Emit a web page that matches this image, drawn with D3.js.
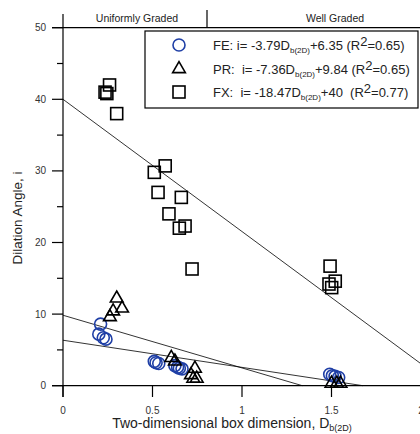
<!DOCTYPE html>
<html><head><meta charset="utf-8">
<script src="https://cdn.jsdelivr.net/npm/d3@7"></script>
<style>body{margin:0;background:#fff}svg{display:block;font-family:"Liberation Sans",Arial,sans-serif}text{white-space:pre}</style>
</head><body><svg id="c" width="420" height="434"></svg>
<script>
// ---- data ----
const feData = [[0.21,8.6],[0.20,7.2],[0.225,6.7],[0.24,6.5],[0.51,3.4],[0.52,3.2],[0.535,3.1],[0.625,2.8],[0.64,2.6],[0.65,2.45],[0.665,2.35],[1.49,1.6],[1.505,1.4],[1.52,1.3],[1.54,1.15]];
const prData = [[0.30,12.2],[0.28,10.4],[0.33,10.8],[0.262,9.6],[0.605,3.9],[0.625,3.4],[0.737,2.4],[0.715,1.5],[0.728,1.0],[0.747,1.0],[1.50,0.3],[1.53,0.3],[1.55,0.3]];
const fxData = [[0.26,42.0],[0.235,41.0],[0.245,40.8],[0.30,38.0],[0.571,30.7],[0.51,29.8],[0.531,27.0],[0.661,26.3],[0.592,24.0],[0.65,22.0],[0.682,22.3],[0.721,16.3],[1.492,16.7],[1.521,14.6],[1.486,14.2],[1.501,13.7]];
const fits = [{name:"FE", slope:-3.79, icpt:6.35, r2:"0.65"},{name:"PR", slope:-7.36, icpt:9.84, r2:"0.65"},{name:"FX", slope:-18.47, icpt:40, r2:"0.77"}];
const yTicks = [0,10,20,30,40,50];
const yMinor = [5,15,25,35,45];
const xTicks = [0,0.5,1,1.5,2];
const xTickLabels = ["0","0.5","1","1.5","2"];
const headers = ["Uniformly Graded", "Well Graded"];

const svg = d3.select("#c");
const x = d3.scaleLinear().domain([0,2]).range([63,421]);
const y = d3.scaleLinear().domain([0,50]).range([385.7,27.7]);
const blue = "#1f3fa6";

// axes lines
svg.append("line").attr("x1",63).attr("x2",63).attr("y1",14).attr("y2",397).attr("stroke","#000").attr("stroke-width",1.2);
svg.append("line").attr("x1",52).attr("x2",420).attr("y1",y(0)).attr("y2",y(0)).attr("stroke","#000").attr("stroke-width",1.2);
svg.append("line").attr("x1",52).attr("x2",420).attr("y1",y(50)).attr("y2",y(50)).attr("stroke","#000").attr("stroke-width",1.2);
// header divider
svg.append("line").attr("x1",207).attr("x2",207).attr("y1",10).attr("y2",y(50)).attr("stroke","#000").attr("stroke-width",1.2);
svg.append("text").attr("x",137).attr("y",22).attr("text-anchor","middle").attr("font-size",10.5).attr("fill","#222").text(headers[0]);
svg.append("text").attr("x",335).attr("y",22).attr("text-anchor","middle").attr("font-size",10.5).attr("fill","#222").text(headers[1]);

// y ticks
yTicks.forEach(t=>{
  svg.append("line").attr("x1",52).attr("x2",63).attr("y1",y(t)).attr("y2",y(t)).attr("stroke","#000").attr("stroke-width",1.2);
  svg.append("text").attr("x",46).attr("y",y(t)+3.5).attr("text-anchor","end").attr("font-size",10).attr("fill","#333").text(t);
});
yMinor.forEach(t=>{
  svg.append("line").attr("x1",57).attr("x2",63).attr("y1",y(t)).attr("y2",y(t)).attr("stroke","#000").attr("stroke-width",1.2);
});
xTicks.forEach((t,i)=>{
  svg.append("line").attr("x1",x(t)).attr("x2",x(t)).attr("y1",y(0)).attr("y2",397).attr("stroke","#000").attr("stroke-width",1.2);
  svg.append("text").attr("x",x(t)).attr("y",414).attr("text-anchor","middle").attr("font-size",10).attr("fill","#333").text(xTickLabels[i]);
});

// axis titles
const xl = svg.append("text").attr("x",232).attr("y",428).attr("text-anchor","middle").attr("font-size",14).attr("fill","#222");
xl.append("tspan").text("Two-dimensional box dimension, D");
xl.append("tspan").attr("font-size",9).attr("dy",3).text("b(2D)");
svg.append("text").attr("transform","translate(22,218) rotate(-90)").attr("text-anchor","middle").attr("font-size",13.5).attr("fill","#222").text("Dilation Angle, i");

// fit lines
fits.forEach(f=>{
  const xEnd = Math.min(2, -f.icpt/f.slope);
  svg.append("line").attr("x1",x(0)).attr("y1",y(f.icpt)).attr("x2",x(xEnd)).attr("y2",y(f.icpt+f.slope*xEnd)).attr("stroke","#000").attr("stroke-width",0.8);
});

// points
const tri = d3.symbol().type(d3.symbolTriangle).size(70);
svg.append("g").selectAll("circle").data(feData).join("circle")
  .attr("cx",d=>x(d[0])).attr("cy",d=>y(d[1])).attr("r",6).attr("fill","none").attr("stroke",blue).attr("stroke-width",1.6);
svg.append("g").selectAll("path").data(prData).join("path")
  .attr("d",tri).attr("transform",d=>`translate(${x(d[0])},${y(d[1])})`).attr("fill","none").attr("stroke","#000").attr("stroke-width",1.6);
svg.append("g").selectAll("rect").data(fxData).join("rect")
  .attr("x",d=>x(d[0])-6).attr("y",d=>y(d[1])-6).attr("width",12).attr("height",12).attr("fill","none").attr("stroke","#000").attr("stroke-width",1.6);

// legend
const lg = svg.append("g");
lg.append("rect").attr("x",145).attr("y",31).attr("width",273).attr("height",77).attr("fill","#fff").attr("stroke","#000").attr("stroke-width",1.2);
const rowsY = [45,69,92];
lg.append("circle").attr("cx",179).attr("cy",rowsY[0]).attr("r",6).attr("fill","none").attr("stroke",blue).attr("stroke-width",1.6);
lg.append("path").attr("d",tri).attr("transform",`translate(179,${rowsY[1]})`).attr("fill","none").attr("stroke","#000").attr("stroke-width",1.6);
lg.append("rect").attr("x",173).attr("y",rowsY[2]-6).attr("width",12).attr("height",12).attr("fill","none").attr("stroke","#000").attr("stroke-width",1.6);
const pre = ["FE: i= ","PR:  i= ","FX:  i= "];
fits.forEach((f,i)=>{
  const t = lg.append("text").attr("x",213).attr("y",rowsY[i]+5).attr("font-size",13).attr("fill","#222");
  t.append("tspan").text(pre[i]+f.slope.toFixed(2)+"D");
  t.append("tspan").attr("font-size",8).attr("dy",3).text("b(2D)");
  t.append("tspan").attr("dy",-3).text("+"+f.icpt+(i===2?"  (R":" (R"));
  t.append("tspan").attr("dy",-4).text("2");
  t.append("tspan").attr("dy",4).text("="+f.r2+")");
});
</script></body></html>
